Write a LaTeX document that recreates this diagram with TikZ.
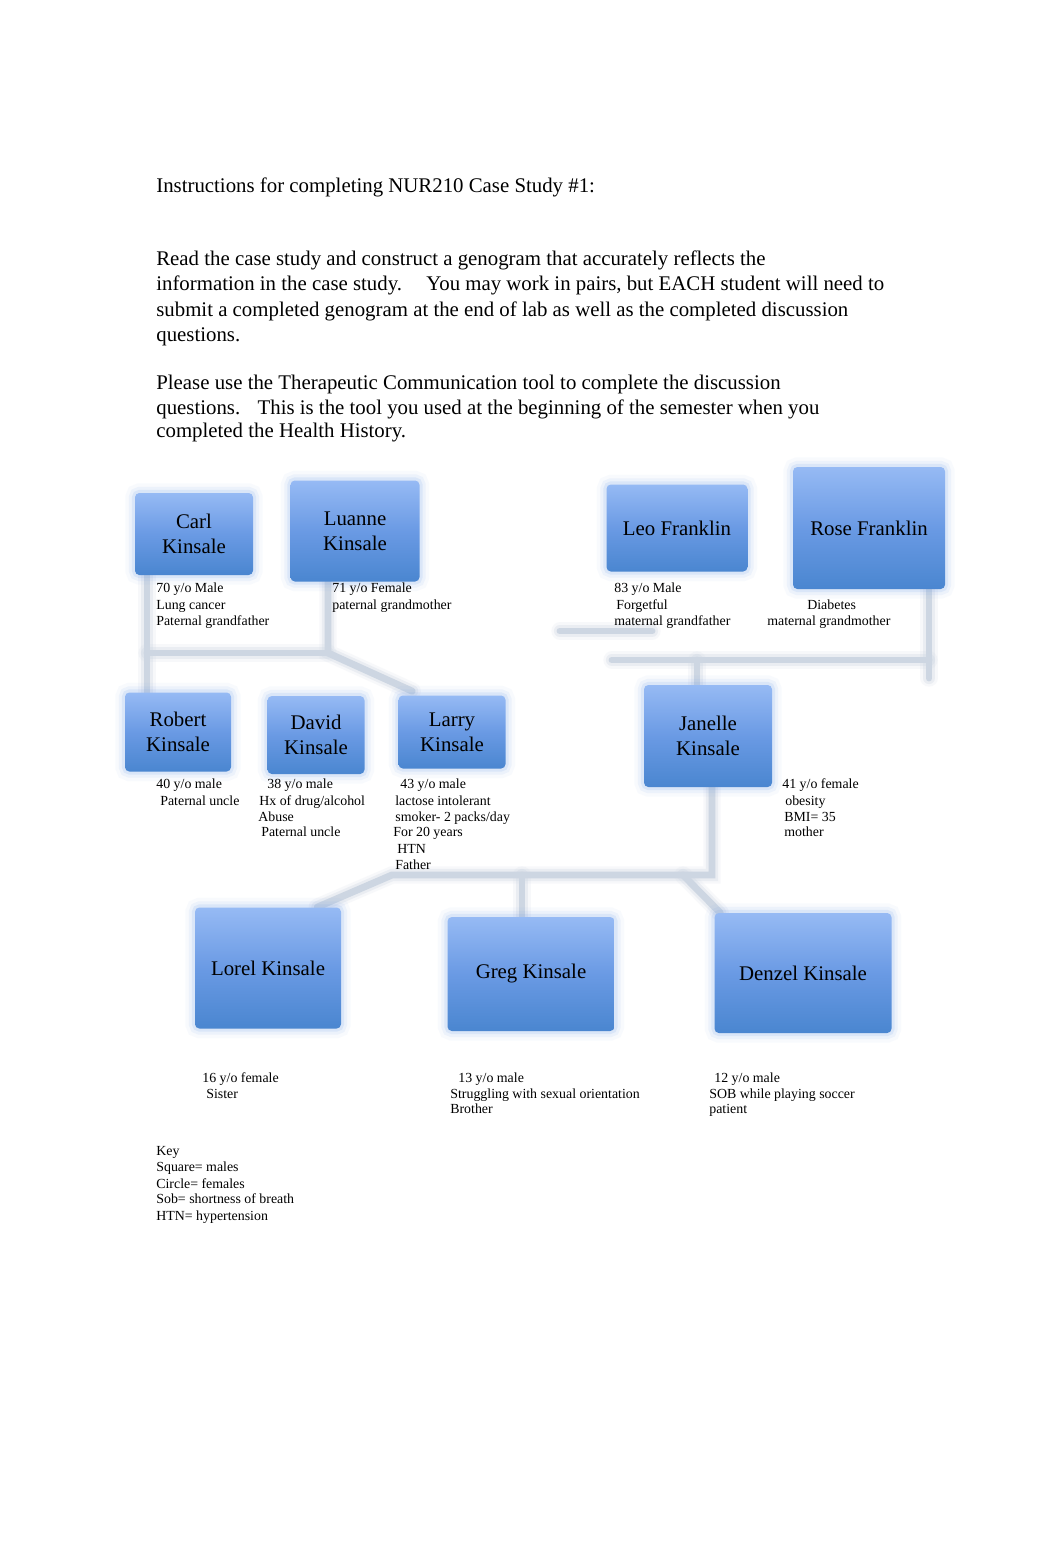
\documentclass[tikz,border=0pt]{standalone}
\usepackage{fontspec}
\setmainfont{Liberation Serif}
\usetikzlibrary{calc}
\pgfdeclarelayer{background}
\pgfsetlayers{background,main}
\newcommand\pxu{0.576pt}
\definecolor{boxtop}{RGB}{150,186,244}
\definecolor{boxmid}{RGB}{106,154,228}
\definecolor{boxbot}{RGB}{74,134,208}
\definecolor{boxglow}{RGB}{120,162,232}
\definecolor{connc}{RGB}{205,214,226}
\newcounter{tln}
\newcommand\sline[3]{\stepcounter{tln}\node[stxt] (s\number\value{tln}) at (#1,#2+5) {#3};}
\newcommand\bline[3]{\stepcounter{tln}\node[btxt] (b\number\value{tln}) at (#1,#2+8) {#3};}
\tikzset{
  stxt/.style={anchor=base west, inner sep=0pt, font=\fontsize{8}{9.6}\selectfont},
  btxt/.style={anchor=base west, inner sep=0pt, font=\fontsize{12}{14.4}\selectfont},
  person/.style={rounded corners=2.5pt, inner sep=0pt, align=center,
    font=\fontsize{12}{14.4}\selectfont,
    top color=boxtop, bottom color=boxbot, middle color=boxmid,
    preaction={draw=boxglow, line width=11pt, draw opacity=0.05},
    preaction={draw=boxglow, line width=7pt, draw opacity=0.09},
    preaction={draw=boxglow, line width=3.5pt, draw opacity=0.15}},
  conn/.style={draw=connc, line width=4pt, line cap=round,
    preaction={draw=connc, line width=10pt, draw opacity=0.15, line cap=round},
    preaction={draw=connc, line width=7pt, draw opacity=0.3, line cap=round}}
}
\begin{document}
\begin{tikzpicture}[x=0.576pt, y=-0.576pt]
\begin{pgfonlayer}{background}
\useasboundingbox (0,0) rectangle (1062,1561);
\fill[white] (0,0) rectangle (1062,1561);
\end{pgfonlayer}

% header text
\bline{156}{185}{Instructions for completing NUR210 Case Study \#1:}
\bline{156}{258}{Read the case study and construct a genogram that accurately reflects the}
\bline{156}{283}{information in the case study.\hspace*{11pt} You may work in pairs, but EACH student will need to}
\bline{156}{308}{submit a completed genogram at the end of lab as well as the completed discussion}
\bline{156}{333}{questions.}
\bline{156}{381}{Please use the Therapeutic Communication tool to complete the discussion}
\bline{156}{406}{questions.\hspace*{7pt} This is the tool you used at the beginning of the semester when you}
\bline{156}{429}{completed the Health History.}

% person boxes
\node[person, minimum width=118*\pxu, minimum height=82*\pxu] (carl) at (194,534) {Carl\\Kinsale};
\node[person, minimum width=129*\pxu, minimum height=101*\pxu] (luanne) at (355,531) {Luanne\\Kinsale};
\node[person, minimum width=141*\pxu, minimum height=87*\pxu] (leo) at (677,528) {Leo Franklin};
\node[person, minimum width=152*\pxu, minimum height=122*\pxu] (rose) at (869,528) {Rose Franklin};
\node[person, minimum width=106*\pxu, minimum height=79*\pxu] (robert) at (178,732) {Robert\\Kinsale};
\node[person, minimum width=97*\pxu, minimum height=78*\pxu] (david) at (316,735) {David\\Kinsale};
\node[person, minimum width=107*\pxu, minimum height=73*\pxu] (larry) at (452,732) {Larry\\Kinsale};
\node[person, minimum width=128*\pxu, minimum height=102*\pxu] (janelle) at (708,736) {Janelle\\Kinsale};
\node[person, minimum width=146*\pxu, minimum height=121*\pxu] (lorel) at (268,968) {Lorel Kinsale};
\node[person, minimum width=167*\pxu, minimum height=114*\pxu] (greg) at (531,974) {Greg Kinsale};
\node[person, minimum width=177*\pxu, minimum height=120*\pxu] (denzel) at (803,973) {Denzel Kinsale};

% connector junctions
\coordinate (jL) at (147,653);
\coordinate (jM) at (328,653);
\coordinate (jR) at (929,660);
\coordinate (jLeo) at (612,660);
\coordinate (jJ) at (697,660);
\coordinate (bA) at (560,631);
\coordinate (bB) at (652,631);
\coordinate (kL) at (392,875);
\coordinate (kR) at (712,875);
\coordinate (kD) at (683,875);
\coordinate (kG) at (522,875);

\begin{pgfonlayer}{background}
\draw[conn] (carl.south -| jL) -- (robert.north -| jL);
\draw[conn] (jL) -- (jM);
\draw[conn] (luanne.south -| jM) -- (jM) -- ($(larry.north west)+(14,-4)$);
\draw[conn] (rose.south -| jR) -- ($(jR)+(0,18)$);
\draw[conn] (jLeo) -- (jR);
\draw[conn] (jJ) -- (janelle.north -| jJ);
\draw[conn] (bA) -- (bB);
\draw[conn] (janelle.south -| kR) -- (kR) -- (kL) -- ($(lorel.north east)+(-24,0)$);
\draw[conn] (kG) -- (greg.north -| kG);
\draw[conn] (kD) -- ($(denzel.north west)+(6,0)$);
\end{pgfonlayer}

% annotations
\sline{156}{587}{70 y/o Male}
\sline{156}{604}{Lung cancer}
\sline{156}{620}{Paternal grandfather}
\sline{332}{587}{71 y/o Female}
\sline{332}{604}{paternal grandmother}
\sline{614}{587}{83 y/o Male}
\sline{616}{604}{Forgetful}
\sline{614}{620}{maternal grandfather}
\sline{807}{604}{Diabetes}
\sline{767}{620}{maternal grandmother}

\sline{156}{783}{40 y/o male}
\sline{160}{800}{Paternal uncle}
\sline{267}{783}{38 y/o male}
\sline{259}{800}{Hx of drug/alcohol}
\sline{258}{816}{Abuse}
\sline{261}{831}{Paternal uncle}
\sline{400}{783}{43 y/o male}
\sline{395}{800}{lactose intolerant}
\sline{395}{816}{smoker- 2 packs/day}
\sline{393}{831}{For 20 years}
\sline{397}{848}{HTN}
\sline{395}{864}{Father}
\sline{782}{783}{41 y/o female}
\sline{785}{800}{obesity}
\sline{784}{816}{BMI= 35}
\sline{784}{831}{mother}

\sline{202}{1077}{16 y/o female}
\sline{206}{1093}{Sister}
\sline{458}{1077}{13 y/o male}
\sline{450}{1093}{Struggling with sexual orientation}
\sline{450}{1108}{Brother}
\sline{714}{1077}{12 y/o male}
\sline{709}{1093}{SOB while playing soccer}
\sline{709}{1108}{patient}

\sline{156}{1150}{Key}
\sline{156}{1166}{Square= males}
\sline{156}{1183}{Circle= females}
\sline{156}{1198}{Sob= shortness of breath}
\sline{156}{1215}{HTN= hypertension}
\end{tikzpicture}
\end{document}
